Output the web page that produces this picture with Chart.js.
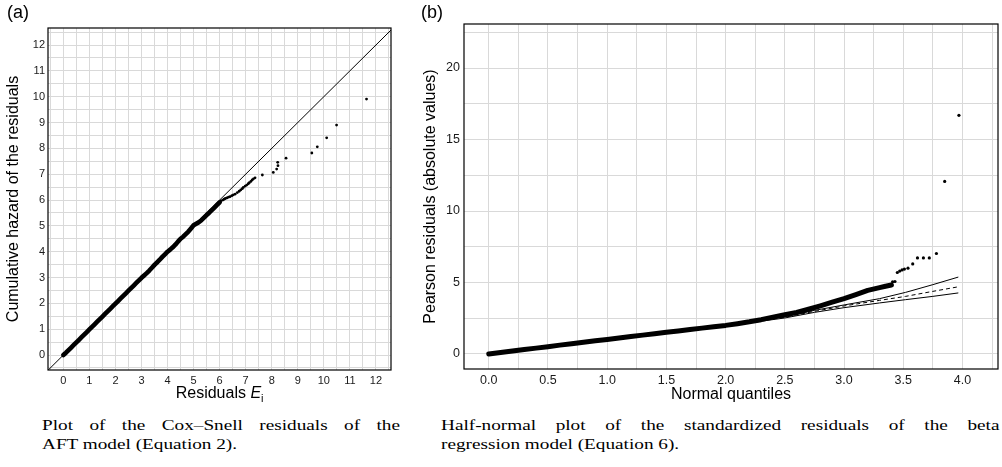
<!DOCTYPE html>
<html><head><meta charset="utf-8">
<script src="https://cdn.jsdelivr.net/npm/chart.js"></script>
<style>
html,body{margin:0;padding:0;background:#fff;}
body{width:1002px;height:467px;position:relative;overflow:hidden;font-family:"Liberation Sans",Arial,sans-serif;}
canvas{position:absolute;}
.lbl{position:absolute;font-size:18px;line-height:1;color:#000;white-space:nowrap;}
.cap{position:absolute;font-family:"Liberation Serif","Times New Roman",serif;font-size:14px;line-height:1;white-space:nowrap;transform-origin:0 0;color:#000;}
.xt{position:absolute;font-size:16px;line-height:1;white-space:nowrap;color:#000;}
.xt sub{font-size:11px;position:relative;top:4px;vertical-align:baseline;}
</style></head><body>
<canvas id="ca" width="400" height="410" style="left:0;top:0"></canvas>
<canvas id="cb" width="602" height="408" style="left:400px;top:0"></canvas>
<div class="lbl" style="left:7px;top:3px">(a)</div>
<div class="lbl" style="left:421px;top:3px">(b)</div>
<div class="xt" id="xta" style="top:385px;left:178px">Residuals <i>E</i><sub>i</sub></div>
<div class="cap" id="refline" data-w="358" data-j="1" style="left:41.5px;top:419px">Plot of the Cox–Snell residuals of the</div>
<div class="cap" id="scaleline" data-w="195" style="left:41.5px;top:437.6px">AFT model (Equation 2).</div>
<div class="cap" data-w="558" data-j="1" style="left:441px;top:419px">Half-normal plot of the standardized residuals of the beta</div>
<div class="cap" style="left:441px;top:437.6px">regression model (Equation 6).</div>
<script>
// ---------- Panel (a): Cox–Snell residuals ----------
const aXTickValues = [0,1,2,3,4,5,6,7,8,9,10,11,12];
const aXTickLabels = ['0','1','2','3','4','5','6','7','8','9','10','11','12'];
const aYTickValues = [0,1,2,3,4,5,6,7,8,9,10,11,12];
const aYTickLabels = ['0','1','2','3','4','5','6','7','8','9','10','11','12'];
const aBodyX = [0.0,0.1,0.2,0.3,0.4,0.5,0.6,0.7,0.8,0.9,1.0,1.1,1.2,1.3,1.4,1.5,1.6,1.7,1.8,1.9,2.0,2.1,2.2,2.3,2.4,2.5,2.6,2.7,2.8,2.9,3.0,3.1,3.2,3.3,3.4,3.5,3.6,3.7,3.8,3.9,4.0,4.1,4.2,4.3,4.4,4.5,4.6,4.7,4.8,4.9,5.0,5.1,5.2,5.3,5.4,5.5,5.6,5.7,5.8,5.9,6.0];
const aBodyY = [0.0,0.09,0.19,0.29,0.39,0.49,0.59,0.69,0.79,0.89,0.99,1.09,1.19,1.29,1.39,1.49,1.59,1.69,1.79,1.89,1.99,2.09,2.19,2.29,2.39,2.49,2.59,2.69,2.79,2.89,2.99,3.08,3.17,3.27,3.38,3.49,3.59,3.69,3.80,3.90,4.00,4.08,4.17,4.27,4.39,4.50,4.58,4.68,4.78,4.90,5.02,5.08,5.14,5.22,5.32,5.42,5.51,5.61,5.71,5.81,5.91];
const aTailX = [6.05,6.12,6.17,6.22,6.28,6.34,6.40,6.47,6.53,6.60,6.68,6.75,6.81,6.87,6.91,6.98,7.04,7.10,7.14,7.20,7.25,7.30,7.36,7.64,8.06,8.19,8.24,8.23,8.55,9.54,9.75,10.11,10.49,11.64];
const aTailY = [5.97,6.00,6.03,6.06,6.08,6.11,6.13,6.17,6.20,6.23,6.29,6.34,6.39,6.44,6.49,6.54,6.58,6.63,6.67,6.72,6.78,6.82,6.86,6.97,7.07,7.20,7.33,7.46,7.62,7.82,8.06,8.41,8.90,9.91];
const aRefLine = [-1, 13];   // y = x reference line

// ---------- Panel (b): half-normal plot ----------
const bXTickValues = [0,0.5,1,1.5,2,2.5,3,3.5,4];
const bXTickLabels = ['0.0','0.5','1.0','1.5','2.0','2.5','3.0','3.5','4.0'];
const bYTickValues = [0,5,10,15,20];
const bYTickLabels = ['0','5','10','15','20'];
const bBodyX = [0,0.1,0.2,0.3,0.4,0.5,0.6,0.7,0.8,0.9,1.0,1.1,1.2,1.3,1.4,1.5,1.6,1.7,1.8,1.9,2.0,2.1,2.2,2.3,2.4,2.5,2.6,2.7,2.8,2.9,3.0,3.1,3.2,3.3,3.35,3.4];
const bBodyY = [0,0.1,0.21,0.31,0.41,0.51,0.62,0.72,0.82,0.92,1.02,1.12,1.22,1.32,1.42,1.52,1.61,1.71,1.81,1.91,2.0,2.12,2.25,2.40,2.58,2.75,2.90,3.13,3.37,3.62,3.87,4.15,4.45,4.64,4.74,4.82];
const bTailX = [3.41,3.43,3.45,3.47,3.49,3.51,3.54,3.58,3.62,3.67,3.72,3.78,3.85,3.97];
const bTailY = [5.05,5.07,5.70,5.80,5.88,5.94,6.00,6.30,6.72,6.72,6.72,7.03,12.07,16.69];
const bEnvX  = [0,0.5,1.0,1.5,2.0,2.5,2.75,3.0,3.3,3.52,3.75,3.965];
const bUpper = [0.03,0.53,1.04,1.55,2.05,2.62,3.05,3.43,3.87,4.31,4.85,5.38];
const bMid   = [0.0,0.50,1.00,1.50,2.00,2.57,2.98,3.36,3.75,4.03,4.38,4.70];
const bLower = [0.0,0.48,0.97,1.46,1.95,2.52,2.91,3.24,3.57,3.80,4.03,4.27];

const FONT = '"Liberation Sans", Arial, sans-serif';
const pts = (xs, ys) => xs.map((x, i) => ({x, y: ys[i]}));
const gridVals = (from, to, step) => { const r = []; for (let v = from; v <= to + 1e-9; v += step) r.push(Math.round(v * 1000) / 1000); return r; };

function mkAxis(o) {
  return {
    type: 'linear', min: o.min, max: o.max, bounds: 'data',
    afterBuildTicks: ax => { ax.ticks = o.grid.map(v => ({value: v})); },
    afterFit: ax => { if (o.horizontal) ax.height = o.size; else ax.width = o.size; },
    grid: {color: '#d9d9d9', lineWidth: 1, drawTicks: false},
    border: {display: false},
    ticks: {
      autoSkip: false, maxRotation: 0, minRotation: 0, padding: o.pad, color: '#1a1a1a',
      font: {family: FONT, size: o.fontSize},
      callback: v => { const i = o.major.findIndex(m => Math.abs(m - v) < 1e-9); return i < 0 ? '' : o.labels[i]; }
    },
    title: o.title ? {display: true, text: o.title, color: '#000', font: {family: FONT, size: 16}, padding: {top: 4, bottom: 4}} : {display: false}
  };
}
const frame = {id: 'frame', afterDraw(c) {
  const {ctx, chartArea: a} = c;
  ctx.save(); ctx.strokeStyle = '#000'; ctx.lineWidth = 1.2;
  ctx.strokeRect(a.left, a.top, a.right - a.left, a.bottom - a.top);
  ctx.restore();
}};
const common = {responsive: false, animation: false, devicePixelRatio: 1,
  plugins: {legend: {display: false}, tooltip: {enabled: false}}, events: []};

new Chart(document.getElementById('ca'), {
  type: 'scatter',
  data: {datasets: [
    {data: pts(aTailX, aTailY), pointRadius: 1.4, pointBackgroundColor: '#000', pointBorderWidth: 0, showLine: false},
    {data: pts(aBodyX, aBodyY), pointRadius: 0, showLine: true, borderColor: '#000', borderWidth: 4.6, borderCapStyle: 'round', borderJoinStyle: 'round'},
    {data: pts(aRefLine, aRefLine), pointRadius: 0, showLine: true, borderColor: '#000', borderWidth: 1}
  ]},
  options: Object.assign({}, common, {
    layout: {padding: {left: 0, top: 28, right: 9, bottom: 0}},
    scales: {
      x: mkAxis({min: -0.59, max: 12.58, grid: gridVals(-0.5, 12.5, 0.5), major: aXTickValues, labels: aXTickLabels, fontSize: 11, horizontal: true, size: 40, pad: 4}),
      y: mkAxis({min: -0.58, max: 12.66, grid: gridVals(-0.5, 12.5, 0.5), major: aYTickValues, labels: aYTickLabels, fontSize: 11, size: 48, pad: 3, title: 'Cumulative hazard of the residuals'})
    }
  }),
  plugins: [frame]
});

new Chart(document.getElementById('cb'), {
  type: 'scatter',
  data: {datasets: [
    {data: pts(bTailX, bTailY), pointRadius: 1.6, pointBackgroundColor: '#000', pointBorderWidth: 0, showLine: false},
    {data: pts(bBodyX, bBodyY), pointRadius: 0, showLine: true, borderColor: '#000', borderWidth: 5, borderCapStyle: 'round', borderJoinStyle: 'round'},
    {data: pts(bEnvX, bUpper), pointRadius: 0, showLine: true, borderColor: '#000', borderWidth: 1},
    {data: pts(bEnvX, bMid), pointRadius: 0, showLine: true, borderColor: '#000', borderWidth: 1, borderDash: [4, 3]},
    {data: pts(bEnvX, bLower), pointRadius: 0, showLine: true, borderColor: '#000', borderWidth: 1}
  ]},
  options: Object.assign({}, common, {
    layout: {padding: {left: 17, top: 24, right: 3, bottom: 0}},
    scales: {
      x: mkAxis({min: -0.209, max: 4.30, grid: gridVals(0, 4.25, 0.25), major: bXTickValues, labels: bXTickLabels, fontSize: 12.5, horizontal: true, size: 39, pad: 4, title: 'Normal quantiles'}),
      y: mkAxis({min: -1.05, max: 23.08, grid: gridVals(0, 22.5, 2.5), major: bYTickValues, labels: bYTickLabels, fontSize: 12.5, size: 47, pad: 4, title: 'Pearson residuals (absolute values)'})
    }
  }),
  plugins: [frame]
});

// center the x title of panel (a) under its plot area
const xta = document.getElementById('xta');
xta.style.left = (219.7 - xta.offsetWidth / 2) + 'px';
// captions: one horizontal scale for all caption text (from a last line, which is not justified);
// the first line of each caption is justified to the full column width
const sl = document.getElementById('scaleline');
const CAP_SCALE = parseFloat(sl.dataset.w) / sl.offsetWidth;
document.querySelectorAll('.cap').forEach(el => {
  el.style.transform = 'scaleX(' + CAP_SCALE + ')';
  if (el.dataset.j) {
    const spaces = (el.textContent.match(/ /g) || []).length;
    const extra = parseFloat(el.dataset.w) / CAP_SCALE - el.offsetWidth;
    el.style.wordSpacing = (extra / spaces) + 'px';
  }
});
</script>
</body></html>
